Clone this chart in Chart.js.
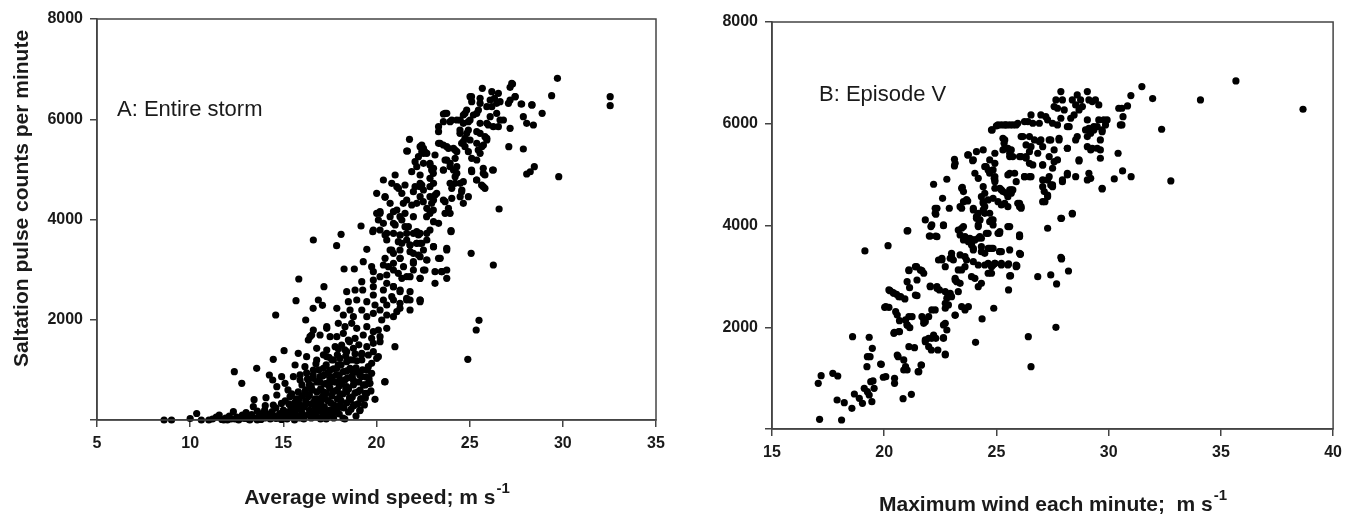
<!DOCTYPE html>
<html>
<head>
<meta charset="utf-8">
<script src="https://cdn.jsdelivr.net/npm/chart.js@4.4.1/dist/chart.umd.min.js"></script>
<style>
  body { margin: 0; background: #fff; }
  #wrap { position: relative; width: 1349px; height: 516px; }
  #stormChart { position: absolute; left: 0; top: 0; }
  #episodeChart { position: absolute; left: 680px; top: 0; }
</style>
</head>
<body>
<div id="wrap">
  <canvas id="stormChart" width="680" height="516"></canvas>
  <canvas id="episodeChart" width="669" height="516"></canvas>
</div>
<script>
// A: entire storm - average wind speed (m/s) vs saltation counts per minute
var windA = [
  8.6, 9.0, 10.0, 10.35, 10.6, 11.0, 11.2, 11.4, 11.56, 11.7,
  11.9, 12.0, 12.1, 12.32, 12.4, 12.5, 12.6, 12.8, 12.9, 13.0,
  13.1, 13.2, 13.3, 13.39, 13.43, 13.5, 13.6, 13.7, 13.8, 13.9,
  14.0, 14.03, 14.07, 14.1, 14.2, 14.3, 14.4, 14.46, 14.5, 14.6,
  14.65, 14.65, 14.7, 14.8, 14.9, 14.91, 15.0, 15.0, 15.09, 15.1,
  12.37, 12.77, 13.57, 14.25, 14.43, 14.46, 14.59, 15.04, 15.25, 15.36,
  15.2, 15.3, 15.4, 15.5, 15.5, 15.6, 15.6, 15.7, 15.7, 15.8,
  15.8, 15.9, 15.9, 16.0, 16.0, 16.0, 16.1, 16.1, 16.2, 16.2,
  16.3, 16.3, 16.4, 16.4, 16.5, 16.5, 16.5, 16.6, 16.6, 16.7,
  16.7, 16.8, 16.8, 16.8, 16.9, 16.9, 17.0, 17.0, 17.0, 17.1,
  17.1, 17.2, 17.2, 17.2, 17.3, 17.3, 17.4, 17.4, 17.4, 17.5,
  17.5, 17.5, 17.6, 17.6, 17.7, 17.7, 17.7, 17.8, 17.8, 17.9,
  17.9, 17.9, 18.0, 18.0, 18.1, 18.1, 18.2, 18.2, 18.3, 18.3,
  18.4, 18.4, 18.5, 18.5, 18.6, 18.63, 18.7, 18.7, 18.8, 18.9,
  19.0, 19.0, 19.1, 19.1, 19.2, 19.3, 19.4, 19.5, 19.6, 19.7,
  16.6, 16.9, 17.1, 17.3, 17.6, 17.8, 18.0, 18.1, 18.3, 18.4,
  18.6, 18.8, 18.9, 19.2, 19.4, 17.9, 17.6, 17.2, 16.4, 15.9,
  15.54, 15.9, 16.34, 16.61, 16.97, 17.33, 17.68, 18.04, 18.4, 18.76,
  19.12, 19.48, 15.63, 16.16, 16.61, 17.15, 17.51, 17.87, 18.22, 18.58,
  18.94, 18.76, 15.8, 16.25, 16.79, 17.33, 17.69, 18.04, 18.4, 18.76,
  19.21, 19.56, 19.74, 19.21, 19.56, 20.46, 16.34, 16.79, 17.33, 17.78,
  18.13, 18.4, 18.76, 19.21, 19.48, 19.83, 20.1, 19.74, 16.52, 16.97,
  17.51, 17.87, 18.22, 18.49, 18.85, 19.29, 19.74, 19.83, 20.19, 17.33,
  17.95, 18.31, 18.67, 18.94, 19.48, 19.83, 20.55, 20.19, 17.87, 18.22,
  18.58, 18.76, 19.21, 19.48, 19.83, 20.19, 20.28, 20.55, 20.91, 21.09,
  18.4, 18.49, 18.94, 19.48, 19.92, 20.37, 20.55, 20.91, 21.26, 21.26,
  21.8, 21.62, 18.85, 19.26, 19.83, 19.83, 20.37, 20.91, 21.26, 21.8,
  22.34, 21.8, 19.21, 19.83, 20.19, 20.55, 21.36, 21.8, 22.34, 23.14,
  19.29, 19.74, 19.83, 20.64, 20.91, 21.17, 21.98, 22.6, 20.82, 20.91,
  20.46, 21.26, 21.98, 22.34, 22.7, 23.33, 19.8, 20.19, 20.46, 21.26,
  21.17, 21.8, 22.34, 22.7, 16.61, 17.86, 18.1, 19.17, 19.48, 15.83,
  18.26, 18.81, 17.18, 15.68, 16.88, 17.1, 16.6, 16.2, 16.61, 17.33,
  16.43, 20.99, 20.44, 19.92, 24.9, 25.35, 25.5, 23.77, 19.12, 19.39,
  19.65, 19.56, 20.01, 20.1, 23.5, 23.77, 23.14, 22.34, 20.91, 21.62,
  29.71, 29.4, 32.54, 32.54, 28.89, 28.35, 27.79, 27.3, 27.17, 27.88,
  28.06, 28.42, 27.1, 27.88, 28.47, 28.25, 28.06, 29.78, 26.58, 25.08,
  26.27, 25.68, 26.19, 26.54, 26.33, 26.45, 23.59, 23.77, 23.95, 24.49,
  24.93, 23.33, 23.33, 21.77, 21.62, 22.34, 22.43, 22.6, 23.33, 23.59,
  23.86, 24.22, 25.02, 25.11, 25.56, 25.56, 25.92, 24.48, 24.75, 24.66,
  24.93, 25.38, 25.92, 25.74, 25.46, 24.93, 25.11, 25.38, 25.56, 24.75,
  25.38, 26.19, 26.45, 26.63, 26.54, 27.17, 27.08, 27.44, 26.1, 24.04,
  24.66, 23.59, 26.0, 25.56, 22.07, 22.16, 22.52, 22.87, 22.96, 23.05,
  22.34, 22.87, 23.59, 23.77, 24.22, 24.31, 23.95, 22.43, 22.52, 22.7,
  23.14, 22.34, 22.52, 22.87, 23.14, 20.91, 21.26, 21.53, 21.98, 20.37,
  21.0, 20.82, 21.18, 21.53, 21.89, 22.07, 22.43, 22.87, 23.06, 20.46,
  21.44, 21.89, 22.34, 22.51, 22.96, 23.05, 23.68, 24.04, 24.49, 23.95,
  24.04, 24.49, 24.58, 23.59, 24.13, 24.22, 25.1, 25.37, 25.73, 25.82,
  26.27, 25.64, 25.82, 20.19, 20.91, 21.0, 21.53, 21.62, 22.16, 22.25,
  22.69, 22.87, 23.06, 23.33, 23.68, 24.0, 20.55, 21.27, 21.36, 21.8,
  22.16, 22.43, 23.06, 23.42, 23.77, 20.37, 20.91, 21.27, 21.45, 21.98,
  22.25, 22.7, 22.52, 21.98, 21.62, 23.5, 22.34, 20.55, 21.27, 20.82,
  22.34, 20.01, 20.46, 19.83, 20.19, 20.1, 24.0, 23.77, 23.06, 22.87,
  25.73, 26.23, 25.11, 25.38, 25.73, 27.76, 28.33, 27.26, 27.44, 27.17,
  26.63, 26.1, 25.1, 25.47, 24.84, 24.66, 25.2, 23.68, 24.31, 25.02,
  25.92, 26.27, 26.81, 24.48, 24.84, 25.02, 25.56, 25.82, 24.57, 24.75,
  25.38, 25.65, 25.92, 23.41, 23.77, 24.13, 24.31, 22.52, 22.25, 22.87,
  23.06, 23.68, 23.95, 24.31, 24.22, 24.66, 24.57, 24.93, 24.66, 23.59,
  23.86, 23.95, 21.62, 22.16, 22.7, 23.06, 23.23, 22.34, 21.98, 21.09,
  21.36, 20.73, 21.09, 20.73, 20.37, 20.01, 21.36, 21.71, 21.98, 21.62,
  22.16, 22.34, 22.7, 22.52, 20.91, 20.55, 20.73, 21.26, 21.8, 21.66,
  15.1, 15.3, 15.45, 15.65, 15.85, 16.05, 16.15, 16.25, 16.35, 16.45,
  16.55, 16.65, 16.75, 16.85, 16.95, 17.05, 17.15, 17.25, 17.35, 17.45,
  17.55, 17.65, 17.75, 17.85, 17.95, 18.05, 18.15, 18.25, 18.35, 18.45,
  18.55, 18.65, 18.75, 18.85, 18.95, 19.05, 19.15, 19.25, 19.35, 19.45,
  17.45, 17.95, 18.35, 18.85, 19.05, 18.55, 17.95, 17.15, 16.75, 16.25,
  14.0, 14.3, 14.6, 14.9, 15.2, 13.1, 13.6, 12.2, 11.8, 12.7
];
var countsA = [
  0, 0, 30, 130, 0, 0, 20, 60, 100, 10,
  40, 0, 80, 166, 20, 60, 0, 100, 30, 150,
  50, 0, 110, 265, 405, 40, 180, 80, 10, 140,
  200, 285, 445, 60, 120, 20, 170, 299, 80, 240,
  499, 665, 40, 130, 330, 864, 60, 200, 732, 380,
  964, 732, 1031, 898, 798, 1211, 2095, 1383, 600, 465,
  20, 120, 260, 60, 180, 340, 0, 100, 420, 220,
  560, 40, 300, 150, 480, 700, 20, 260, 380, 600,
  100, 820, 200, 500, 40, 320, 680, 140, 900, 420,
  260, 60, 560, 760, 180, 1000, 340, 620, 20, 460,
  880, 120, 260, 720, 540, 1100, 80, 380, 940, 200,
  640, 820, 480, 1200, 300, 40, 1020, 580, 760, 160,
  420, 1300, 680, 900, 260, 1100, 520, 40, 800, 1400,
  340, 980, 620, 160, 1200, 213, 460, 880, 740, 1040,
  320, 560, 186, 900, 1300, 700, 440, 1000, 820, 580,
  60, 320, 140, 20, 100, 240, 120, 380, 20, 560,
  400, 300, 80, 420, 700, 600, 860, 900, 700, 900,
  864, 798, 798, 832, 864, 732, 765, 798, 665, 698,
  598, 532, 1097, 1064, 998, 1031, 998, 1031, 964, 1031,
  964, 798, 1330, 1263, 1197, 1263, 1197, 1231, 1164, 1197,
  1197, 1064, 931, 864, 732, 764, 1596, 1430, 1397, 1463,
  1496, 1363, 1430, 1330, 1463, 1363, 1263, 1131, 1696, 1696,
  1662, 1662, 1729, 1596, 1630, 1696, 1630, 1530, 1563, 1862,
  1929, 1862, 1929, 1829, 1862, 1762, 1829, 1662, 2228, 2095,
  2195, 2061, 2195, 2061, 2128, 2195, 1995, 2095, 2061, 2161,
  2560, 2360, 2394, 2360, 2294, 2394, 2294, 2394, 2328, 2228,
  2195, 2394, 2594, 2594, 2660, 2494, 2594, 2660, 2560, 2560,
  2360, 2394, 2760, 2793, 2860, 2893, 2827, 2860, 2827, 2727,
  3159, 3059, 2959, 3059, 2993, 2927, 3126, 2993, 3392, 3325,
  3226, 3226, 3325, 3259, 3192, 3226, 3757, 3791, 3691, 3691,
  3558, 3491, 3525, 3724, 3591, 3477, 3705, 3870, 3405, 2813,
  3012, 3012, 2660, 2380, 2394, 2288, 2228, 1995, 1796, 1829,
  1662, 1463, 758, 413, 1211, 1796, 1989, 2827, 200, 532,
  732, 1297, 1231, 1796, 2960, 2993, 2960, 2394, 2660, 2428,
  6817, 6470, 6450, 6270, 6119, 6285, 6304, 6703, 6637, 6051,
  5919, 5885, 5452, 5406, 5053, 4953, 4908, 4854, 4209, 3325,
  3092, 6617, 6550, 6517, 6417, 6317, 6105, 6119, 5951, 5985,
  5951, 5852, 5752, 5600, 5367, 5452, 5352, 5352, 5520, 5486,
  5420, 5387, 6450, 6350, 6417, 6318, 6250, 5719, 5619, 5552,
  5786, 5752, 5619, 5486, 5387, 5353, 5220, 5187, 5320, 6119,
  6119, 6250, 6119, 5985, 5852, 5819, 6318, 6450, 6051, 5985,
  5919, 5951, 5885, 5919, 5153, 5054, 5120, 5087, 4988, 4921,
  4888, 4821, 4988, 5187, 5220, 5054, 5120, 5486, 5420, 5320,
  5287, 4722, 4589, 4455, 4489, 4156, 4056, 4123, 4056, 4788,
  4888, 4722, 4622, 4688, 4954, 4655, 4688, 4655, 4722, 4455,
  4322, 4289, 4455, 4355, 4322, 4189, 4355, 4422, 4455, 4722,
  4622, 4722, 4589, 4988, 4988, 4854, 4988, 4788, 5021, 4888,
  4988, 4688, 4622, 4123, 3924, 3891, 3857, 3724, 3757, 3691,
  4056, 4123, 3957, 3924, 4123, 3757, 3724, 3691, 3525, 3491,
  3525, 3525, 3458, 3226, 3392, 3092, 3126, 3226, 3059, 3159,
  3292, 3192, 2993, 2993, 2859, 2960, 2827, 2727, 2594, 2461,
  2394, 4522, 4442, 3791, 4156, 3990, 3777, 3425, 3458, 3791,
  4921, 4988, 4954, 4788, 4655, 6304, 6285, 6717, 6450, 6384,
  6350, 6384, 6450, 6185, 6185, 6085, 6085, 6119, 5985, 5985,
  5919, 5852, 5985, 5786, 5719, 5586, 5719, 5652, 5520, 5453,
  5520, 5453, 5586, 5520, 5453, 5420, 5353, 5320, 5253, 5120,
  5021, 5187, 5054, 4921, 4722, 4754, 4555, 4455, 4322, 4389,
  4223, 4123, 4389, 4322, 4223, 4389, 4522, 4655, 4555, 4655,
  4522, 4322, 4190, 4056, 3924, 4123, 3990, 3857, 3724, 3591,
  3525, 3724, 3591, 3392, 3724, 3591, 3392, 3392, 3358, 5367,
  110, 320, 520, 240, 420, 80, 560, 330, 470, 120,
  600, 360, 180, 420, 760, 250, 560, 420, 180, 680,
  340, 560, 160, 900, 280, 500, 720, 240, 620, 840,
  440, 1000, 280, 540, 1180, 760, 420, 1000, 300, 860,
  1250, 1100, 1280, 1320, 1500, 1560, 1420, 1300, 1120, 940,
  40, 100, 30, 10, 160, 20, 0, 20, 0, 40
];

// B: episode V - maximum wind each minute (m/s) vs counts per minute
var windB = [
  17.12, 18.1, 17.06, 17.19, 17.71, 17.93, 17.9, 18.22, 18.56, 18.67,
  18.89, 19.03, 19.11, 19.25, 19.33, 19.45, 19.55, 19.4, 19.5, 19.96,
  20.07, 20.46, 20.46, 20.84, 21.21, 19.23, 19.87, 19.25, 19.37, 19.47,
  18.59, 19.33, 20.58, 20.62, 20.87, 20.95, 21.02, 21.1, 21.35, 21.64,
  21.51, 20.45, 20.68, 20.02, 20.21, 20.51, 20.58, 20.68, 20.95, 21.02,
  21.14, 21.24, 20.26, 20.4, 20.55, 20.73, 20.92, 21.1, 21.13, 21.44,
  21.68, 21.76, 21.46, 21.46, 21.68, 21.83, 21.76, 21.83, 21.98, 22.12,
  22.2, 22.3, 22.1, 22.39, 22.05, 22.35, 22.46, 22.42, 22.57, 22.72,
  22.64, 22.72, 22.79, 22.72, 22.86, 22.83, 22.94, 23.0, 23.16, 23.3,
  23.38, 23.16, 23.45, 23.6, 23.67, 23.0, 23.6, 23.75, 23.89, 24.04,
  24.19, 24.07, 24.36, 24.33, 24.48, 24.63, 24.85, 24.93, 24.88, 24.63,
  24.78, 25.22, 25.54, 25.59, 25.54, 26.07, 25.91, 25.63, 26.84, 27.42,
  27.68, 27.9, 28.21, 26.42, 27.65, 26.54, 35.67, 38.66, 34.09, 31.48,
  31.96, 32.36, 32.77, 30.99, 30.84, 30.59, 30.45, 30.64, 30.59, 30.52,
  30.42, 30.62, 31.0, 30.25, 29.71, 29.63, 29.63, 29.93, 29.86, 29.71,
  29.56, 29.41, 29.27, 29.12, 29.05, 28.6, 28.75, 28.83, 28.68, 28.46,
  28.53, 27.87, 27.94, 27.65, 27.57, 27.72, 28.38, 28.02, 28.31, 28.24,
  27.87, 29.05, 29.12, 29.34, 29.2, 29.56, 29.49, 29.71, 29.78, 26.98,
  27.28, 27.5, 27.72, 27.2, 26.91, 26.54, 26.25, 25.95, 25.59, 25.88,
  26.1, 26.47, 26.54, 26.47, 26.98, 27.06, 27.35, 27.57, 27.79, 28.16,
  28.6, 28.53, 29.05, 29.05, 29.2, 29.49, 29.63, 29.34, 29.12, 25.59,
  25.73, 26.1, 26.32, 26.47, 26.62, 27.06, 27.35, 28.68, 25.59, 25.81,
  26.25, 26.54, 27.06, 27.35, 27.42, 27.94, 28.16, 28.53, 29.12, 29.05,
  25.59, 25.66, 25.51, 26.03, 26.1, 27.06, 27.13, 27.28, 27.06, 27.5,
  27.87, 28.38, 27.28, 25.59, 26.03, 26.06, 27.87, 24.78, 25.07, 25.37,
  26.4, 26.62, 26.18, 25.37, 25.51, 25.29, 25.66, 26.32, 26.69, 26.91,
  23.75, 24.11, 24.41, 23.97, 24.7, 24.93, 25.59, 26.03, 26.32, 26.84,
  24.48, 24.63, 24.85, 24.93, 24.93, 25.51, 26.25, 26.47, 23.45, 23.53,
  24.41, 24.48, 24.33, 24.93, 25.22, 25.44, 25.66, 25.51, 23.67, 24.41,
  24.48, 24.85, 25.07, 25.22, 25.37, 25.95, 26.1, 24.11, 24.26, 24.7,
  24.85, 24.19, 23.53, 23.3, 23.6, 23.82, 23.89, 24.26, 24.55, 25.14,
  26.03, 23.97, 24.33, 24.78, 25.22, 26.03, 23.38, 23.6, 23.97, 24.19,
  24.93, 25.88, 27.9, 28.38, 27.9, 27.06, 27.57, 27.5, 27.72, 27.28,
  27.5, 27.28, 27.16, 27.94, 28.16, 29.2, 29.71, 28.16, 28.68, 28.97,
  29.27, 28.16, 27.79, 27.42, 19.14, 20.17, 21.02, 19.84, 20.87, 20.95,
  21.54, 21.66, 20.43, 20.65, 21.02, 21.1, 20.07, 20.21, 20.43, 20.65,
  21.02, 21.1, 21.39, 21.61, 21.39, 21.76, 21.98, 22.12, 22.27, 21.83,
  21.98, 22.2, 21.83, 22.12, 22.27, 22.27, 22.35, 22.05, 22.64, 22.2,
  22.6, 22.9, 22.79, 22.57, 22.94, 23.08, 22.72, 23.0, 22.05, 22.35,
  22.72, 22.79, 22.72, 23.16, 23.3, 23.23, 22.64, 22.64, 22.72, 23.16,
  23.45, 23.45, 23.38, 23.67, 23.53, 23.75, 23.97, 24.19, 23.97, 24.7,
  24.48, 24.78, 25.15, 25.22, 25.51, 25.59, 25.88, 23.45, 23.67, 23.97,
  24.11, 24.19, 24.41, 24.48, 24.63, 24.78, 25.15, 25.51, 26.03, 26.03,
  21.05, 22.08, 22.01, 22.3, 23.13, 23.13, 23.16, 23.48, 23.72, 23.94,
  24.81, 25.0, 25.22, 25.44, 25.73, 25.29, 25.37, 25.34, 24.54, 24.7,
  24.93, 24.9, 24.93, 25.15, 25.29, 25.73, 25.88, 24.04, 24.19, 23.53,
  23.38, 23.97, 24.19, 24.41, 24.26, 24.7, 24.85, 25.07, 24.63, 24.33,
  24.04, 23.89, 24.33, 24.63, 24.85, 25.14, 22.35, 22.3, 22.64, 23.72
];
var countsB = [
  190, 177, 898, 1048, 1095, 1042, 570, 517, 407, 688,
  603, 505, 800, 733, 668, 537, 800, 930, 944, 1017,
  1028, 997, 898, 596, 682, 1225, 1272, 1421, 1421, 1586,
  1815, 1803, 1455, 1421, 1357, 1193, 1160, 1618, 1598, 1258,
  1127, 1901, 1913, 2392, 2392, 2306, 2241, 2129, 2143, 2045,
  1992, 2208, 2719, 2680, 2648, 2601, 2556, 3112, 2778, 3191,
  3112, 3061, 2929, 2621, 2208, 2110, 2078, 1750, 1618, 1783,
  1803, 1783, 1553, 1553, 2811, 2798, 2733, 3322, 3322, 1474,
  1795, 2078, 1946, 2373, 2438, 2648, 2668, 2601, 2235, 2700,
  2864, 2929, 3126, 3191, 3322, 3387, 2340, 2405, 2994, 2962,
  2798, 1704, 2163, 2864, 3224, 3257, 3224, 3257, 2373, 3061,
  3061, 3257, 2733, 3008, 3244, 3440, 3205, 3014, 2995, 3028,
  2851, 3342, 3106, 1815, 1999, 1225, 6842, 6285, 6468, 6730,
  6494, 5892, 4876, 6553, 6350, 6305, 6305, 6140, 5977, 5977,
  5420, 5072, 4960, 4915, 4718, 5485, 5322, 6075, 5977, 5878,
  6370, 6468, 6435, 6468, 6632, 6566, 6468, 6337, 6272, 6173,
  6370, 6632, 6468, 6468, 6337, 6305, 6468, 6272, 6108, 5943,
  6108, 6075, 5911, 5878, 5813, 6075, 5943, 5845, 6075, 6173,
  6075, 6010, 5977, 6140, 6010, 6173, 6042, 6010, 5977, 5977,
  5747, 5747, 5550, 5452, 5682, 5550, 5682, 5485, 5682, 5518,
  5747, 5682, 5747, 5550, 5485, 5518, 5682, 5943, 5878, 5420,
  5354, 5354, 5354, 5223, 5190, 5190, 5354, 5269, 5027, 5027,
  4960, 4960, 4895, 4960, 4797, 4862, 5027, 4960, 5027, 4895,
  4699, 4634, 4371, 4371, 4339, 4764, 4666, 4567, 4469, 4764,
  4142, 4241, 3946, 3978, 3794, 3434, 3376, 5878, 5977, 5977,
  6042, 6010, 5747, 5682, 5518, 5485, 5485, 5584, 5682, 5649,
  5387, 5452, 5485, 5289, 5289, 5420, 5354, 5354, 5322, 5420,
  5157, 5092, 5092, 4960, 4895, 4994, 4960, 4960, 4732, 4666,
  4764, 4634, 4567, 4732, 4699, 4634, 4699, 4567, 4502, 4469,
  4371, 4535, 4469, 4404, 4436, 4436, 4371, 4174, 4109, 4076,
  4011, 3978, 3978, 3912, 3781, 3749, 3650, 3781, 3847, 3847,
  3814, 3519, 3486, 3552, 3486, 3453, 3421, 3387, 3289, 3224,
  3257, 3224, 4142, 4227, 3356, 5190, 5255, 5125, 5288, 4895,
  4797, 4600, 4469, 4895, 4994, 4928, 4732, 5518, 5288, 5878,
  5518, 5943, 5715, 5682, 3500, 3604, 3893, 1278, 1160, 1225,
  1127, 1258, 1881, 1913, 2045, 2208, 2405, 2733, 2668, 2601,
  2896, 3126, 3191, 3126, 2634, 2143, 2208, 2340, 2340, 1717,
  1783, 1848, 4109, 4011, 4339, 4240, 3781, 3794, 4011, 4811,
  4535, 4339, 4909, 3356, 3356, 3322, 3191, 3454, 2798, 2766,
  2700, 2569, 2471, 2962, 3126, 2896, 2045, 1783, 1455, 2241,
  2405, 3946, 3814, 3749, 3716, 3683, 3716, 3749, 3552, 3552,
  3454, 3191, 3486, 3224, 3224, 3519, 3191, 4339, 4502, 4306,
  4142, 4011, 4437, 4240, 4502, 4109, 3880, 3978, 4437, 3781,
  3899, 3978, 3794, 3794, 5302, 5171, 5223, 4752, 4482, 5275,
  5878, 5957, 5977, 5977, 5977, 5715, 5518, 5616, 5157, 5027,
  5223, 4928, 4862, 4732, 4666, 4699, 4862, 5027, 4928, 4469,
  4371, 4339, 4241, 4306, 4109, 4241, 4109, 3847, 3847, 3749,
  3716, 3617, 3584, 3552, 3552, 3486, 4339, 4221, 3997, 5387
];

var FONT = '"Liberation Sans", Arial, sans-serif';
var INK = "#1a1a1a";
var AXIS = "#444444";

// box around the plot area, panel label and axis titles (with the -1 superscript)
var panelText = {
  id: "panelText",
  afterDraw: function (chart, args, opts) {
    var ctx = chart.ctx, a = chart.chartArea;
    ctx.save();
    ctx.strokeStyle = AXIS;
    ctx.lineWidth = 1.5;
    ctx.strokeRect(a.left, a.top, a.right - a.left, a.bottom - a.top);

    ctx.fillStyle = INK;
    ctx.textBaseline = "middle";
    ctx.textAlign = "left";
    ctx.font = "22px " + FONT;
    ctx.fillText(opts.panel, a.left + opts.panelDx, a.top + opts.panelDy);

    ctx.font = "bold 21px " + FONT;
    var wBase = ctx.measureText(opts.xTitle).width;
    ctx.font = "bold 15px " + FONT;
    var wSup = ctx.measureText("-1").width;
    var x0 = (a.left + a.right) / 2 - (wBase + wSup) / 2;
    var y = a.bottom + opts.xTitleDy;
    ctx.font = "bold 21px " + FONT;
    ctx.fillText(opts.xTitle, x0, y);
    ctx.font = "bold 15px " + FONT;
    ctx.fillText("-1", x0 + wBase + 1, y - 9);

    if (opts.yTitle) {
      ctx.translate(opts.yTitleX, (a.top + a.bottom) / 2 + opts.yTitleDy);
      ctx.rotate(-Math.PI / 2);
      ctx.textAlign = "center";
      ctx.font = "bold 21px " + FONT;
      ctx.fillText(opts.yTitle, 0, 0);
    }
    ctx.restore();
  }
};

function makeScales(xMin, xMax, yWidth, xHeight) {
  var grid = { drawOnChartArea: false, drawTicks: true, tickLength: 7, color: AXIS, lineWidth: 1.5 };
  var tickFont = { family: FONT, size: 16, weight: "bold" };
  return {
    x: {
      type: "linear", min: xMin, max: xMax,
      ticks: { stepSize: 5, font: tickFont, color: INK, padding: 7, maxRotation: 0 },
      grid: grid,
      border: { display: true, color: AXIS, width: 1.5 },
      afterFit: function (s) { s.height = xHeight; }
    },
    y: {
      min: 0, max: 8000,
      ticks: {
        stepSize: 2000, font: tickFont, color: INK, padding: 7,
        callback: function (v) { return v === 0 ? "" : String(v); }
      },
      grid: grid,
      border: { display: true, color: AXIS, width: 1.5 },
      afterFit: function (s) { s.width = yWidth; }
    }
  };
}

function points(xs, ys) {
  return xs.map(function (x, i) { return { x: x, y: ys[i] }; });
}

new Chart("stormChart", {
  type: "scatter",
  data: {
    datasets: [{
      data: points(windA, countsA),
      backgroundColor: "#000",
      borderWidth: 0,
      pointRadius: 3.6,
      clip: false
    }]
  },
  options: {
    responsive: false,
    animation: false,
    events: [],
    layout: { padding: { left: 0, top: 19, right: 24, bottom: 0 } },
    scales: makeScales(5, 35, 97, 96),
    plugins: {
      legend: { display: false },
      tooltip: { enabled: false },
      panelText: {
        panel: "A: Entire storm", panelDx: 20, panelDy: 91,
        xTitle: "Average wind speed; m s", xTitleDy: 78,
        yTitle: "Saltation pulse counts per minute", yTitleX: 22, yTitleDy: -21
      }
    }
  },
  plugins: [panelText]
});

new Chart("episodeChart", {
  type: "scatter",
  data: {
    datasets: [{
      data: points(windB, countsB),
      backgroundColor: "#000",
      borderWidth: 0,
      pointRadius: 3.6,
      clip: false
    }]
  },
  options: {
    responsive: false,
    animation: false,
    events: [],
    layout: { padding: { left: 0, top: 22, right: 11, bottom: 0 } },
    scales: makeScales(15, 40, 92, 87),
    plugins: {
      legend: { display: false },
      tooltip: { enabled: false },
      panelText: {
        panel: "B: Episode V", panelDx: 47, panelDy: 73,
        xTitle: "Maximum wind each minute;  m s", xTitleDy: 76
      }
    }
  },
  plugins: [panelText]
});
</script>
</body>
</html>
